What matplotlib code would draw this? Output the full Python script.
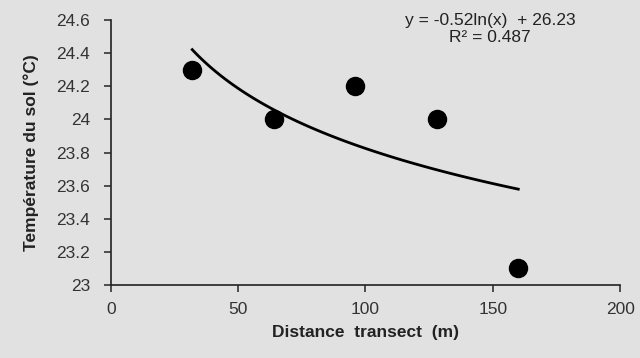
import numpy as np
import matplotlib.pyplot as plt

plt.rcParams['font.family'] = ['Liberation Sans', 'DejaVu Sans']

distance = [32, 64, 96, 128, 160]
temperature = [24.3, 24.0, 24.2, 24.0, 23.1]
x_ticks = [0, 50, 100, 150, 200]
y_ticks = [23, 23.2, 23.4, 23.6, 23.8, 24, 24.2, 24.4, 24.6]
y_labels = ['23', '23.2', '23.4', '23.6', '23.8', '24', '24.2', '24.4', '24.6']

# log trend line fitted on the points
slope, intercept = np.polyfit(np.log(distance), temperature, 1)
xs = np.linspace(min(distance), max(distance), 100)
fit = slope * np.log(xs) + intercept

bg = '#e1e1e1'
fig = plt.figure(figsize=(6.4, 3.58), dpi=100, facecolor=bg)
ax = fig.add_axes([0.173, 0.204, 0.796, 0.74], facecolor=bg)

ax.plot(xs, fit, color='black', linewidth=2)
ax.plot(distance, temperature, 'o', color='black', markersize=13)

ax.set_xlim(0, 200)
ax.set_ylim(23, 24.6)
ax.set_xticks(x_ticks)
ax.set_yticks(y_ticks)
ax.set_yticklabels(y_labels)
ax.tick_params(colors='#333333', labelsize=12.5, length=5, width=1.2)
ax.tick_params(axis='x', pad=7)
ax.tick_params(axis='y', pad=10)
for s in ['top', 'right']:
    ax.spines[s].set_visible(False)
for s in ['left', 'bottom']:
    ax.spines[s].set_linewidth(1.2)
    ax.spines[s].set_color('#222222')

ax.set_xlabel('Distance  transect  (m)', fontsize=12.5, fontweight='bold', color='#222222', labelpad=6)
ax.set_ylabel('Température du sol (°C)', fontsize=12.5, fontweight='bold', color='#222222', labelpad=12)

ax.text(0.745, 1.025, 'y = -0.52ln(x)  + 26.23\nR² = 0.487', transform=ax.transAxes,
        ha='center', va='top', fontsize=12.5, color='#222222', linespacing=1.1)

fig.savefig('out.png', dpi=100, facecolor=bg)
